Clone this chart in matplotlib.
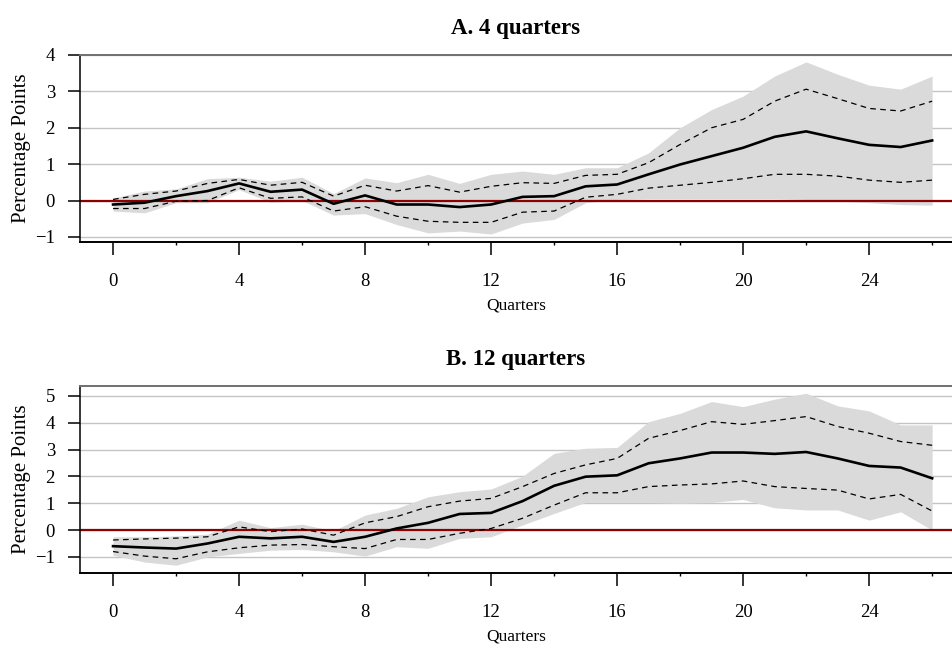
import numpy as np
import matplotlib
matplotlib.use("Agg")
import matplotlib.pyplot as plt
from matplotlib.ticker import MultipleLocator

plt.rcParams['font.family'] = ['Liberation Serif', 'DejaVu Serif']

quarters = np.arange(27)

# A. 4 quarters
a_mid = [-0.11, -0.06, 0.12, 0.26, 0.47, 0.24, 0.30, -0.09, 0.14, -0.11, -0.11, -0.18, -0.11,
         0.10, 0.12, 0.39, 0.44, 0.72, 0.99, 1.22, 1.45, 1.75, 1.90, 1.71, 1.53, 1.47, 1.65]
a_hi = [0.03, 0.17, 0.26, 0.47, 0.58, 0.42, 0.50, 0.12, 0.42, 0.26, 0.41, 0.23, 0.39,
        0.49, 0.47, 0.69, 0.72, 1.04, 1.54, 2.00, 2.23, 2.73, 3.06, 2.80, 2.53, 2.46, 2.73]
a_lo = [-0.22, -0.22, -0.02, 0.00, 0.35, 0.06, 0.10, -0.29, -0.17, -0.43, -0.57, -0.60, -0.60,
        -0.32, -0.29, 0.09, 0.17, 0.34, 0.42, 0.50, 0.60, 0.72, 0.72, 0.67, 0.56, 0.50, 0.56]
a_band_hi = [0.07, 0.26, 0.32, 0.60, 0.64, 0.53, 0.64, 0.19, 0.62, 0.49, 0.72, 0.47, 0.72,
             0.81, 0.72, 0.90, 0.90, 1.31, 2.00, 2.50, 2.87, 3.42, 3.81, 3.47, 3.17, 3.06, 3.42]
a_band_lo = [-0.29, -0.34, -0.06, -0.06, 0.30, -0.05, 0.00, -0.40, -0.36, -0.66, -0.89, -0.84, -0.92,
             -0.62, -0.52, -0.06, 0.03, 0.05, 0.05, 0.05, 0.05, 0.05, 0.03, -0.02, -0.06, -0.11, -0.13]

# B. 12 quarters
b_mid = [-0.60, -0.65, -0.69, -0.50, -0.25, -0.31, -0.25, -0.44, -0.25, 0.06, 0.27, 0.60, 0.64,
         1.08, 1.65, 1.99, 2.04, 2.49, 2.67, 2.89, 2.89, 2.84, 2.91, 2.67, 2.39, 2.33, 1.93]
b_hi = [-0.37, -0.33, -0.30, -0.25, 0.12, -0.06, 0.04, -0.19, 0.27, 0.50, 0.87, 1.08, 1.18,
        1.62, 2.11, 2.43, 2.67, 3.42, 3.71, 4.04, 3.94, 4.08, 4.23, 3.86, 3.61, 3.30, 3.16]
b_lo = [-0.80, -0.97, -1.07, -0.81, -0.66, -0.56, -0.54, -0.62, -0.69, -0.35, -0.35, -0.12, 0.06,
        0.44, 0.93, 1.39, 1.39, 1.62, 1.68, 1.72, 1.83, 1.62, 1.55, 1.49, 1.16, 1.33, 0.71]
b_band_hi = [-0.25, -0.25, -0.22, -0.15, 0.37, 0.09, 0.22, -0.03, 0.56, 0.81, 1.24, 1.43, 1.53,
             2.01, 2.86, 3.05, 3.08, 4.04, 4.35, 4.79, 4.60, 4.88, 5.10, 4.63, 4.44, 3.92, 3.92]
b_band_lo = [-0.94, -1.19, -1.31, -1.00, -0.87, -0.75, -0.72, -0.81, -0.97, -0.62, -0.68, -0.31, -0.25,
             0.19, 0.62, 1.03, 1.03, 1.03, 1.00, 1.03, 1.14, 0.83, 0.75, 0.75, 0.37, 0.68, 0.00]

panels = [
    ("A. 4 quarters", a_mid, a_hi, a_lo, a_band_hi, a_band_lo, (-1.14, 4.0), [-1, 0, 1, 2, 3, 4]),
    ("B. 12 quarters", b_mid, b_hi, b_lo, b_band_hi, b_band_lo, (-1.6, 5.37), [-1, 0, 1, 2, 3, 4, 5]),
]

fig = plt.figure(figsize=(9.52, 6.46), dpi=100)
positions = [[0.084, 0.6254, 0.916, 0.2895], [0.084, 0.1130, 0.916, 0.2895]]

for pos, (title, mid, hi, lo, bhi, blo, ylim, yt) in zip(positions, panels):
    ax = fig.add_axes(pos)
    ax.fill_between(quarters, blo, bhi, color='#dadada', lw=0, zorder=1)
    for g in yt:
        ax.axhline(g, color='#c4c4c4', lw=1.0, zorder=0.5)
    ax.axhline(0, color='#8b0000', lw=1.6, zorder=2)
    ax.plot(quarters, hi, color='black', lw=0.9, ls=(0, (4.5, 3.5)), zorder=3)
    ax.plot(quarters, lo, color='black', lw=0.9, ls=(0, (4.5, 3.5)), zorder=3)
    ax.plot(quarters, mid, color='black', lw=1.9, zorder=4)

    ax.set_xlim(-1.05, 26.63)
    ax.set_ylim(*ylim)
    ax.set_yticks(yt)
    ax.xaxis.set_major_locator(MultipleLocator(4))
    ax.xaxis.set_minor_locator(MultipleLocator(2))
    ax.tick_params(axis='x', which='major', length=9, width=1.1, pad=13, labelsize=13.5)
    ax.tick_params(axis='x', which='minor', length=2.5, width=1.0)
    ax.tick_params(axis='y', length=9, width=1.1, pad=9, labelsize=13.5)

    ax.spines['right'].set_visible(False)
    ax.spines['top'].set_color('#707070')
    ax.spines['top'].set_linewidth(1.4)
    ax.spines['left'].set_linewidth(1.1)
    ax.spines['bottom'].set_linewidth(1.4)

    ax.set_title(title, fontsize=16.5, fontweight='bold', pad=15)
    ax.set_xlabel('Quarters', fontsize=12.5, labelpad=6)
    ax.set_ylabel('Percentage Points', fontsize=15, labelpad=3)

fig.savefig('out.png', dpi=100)
